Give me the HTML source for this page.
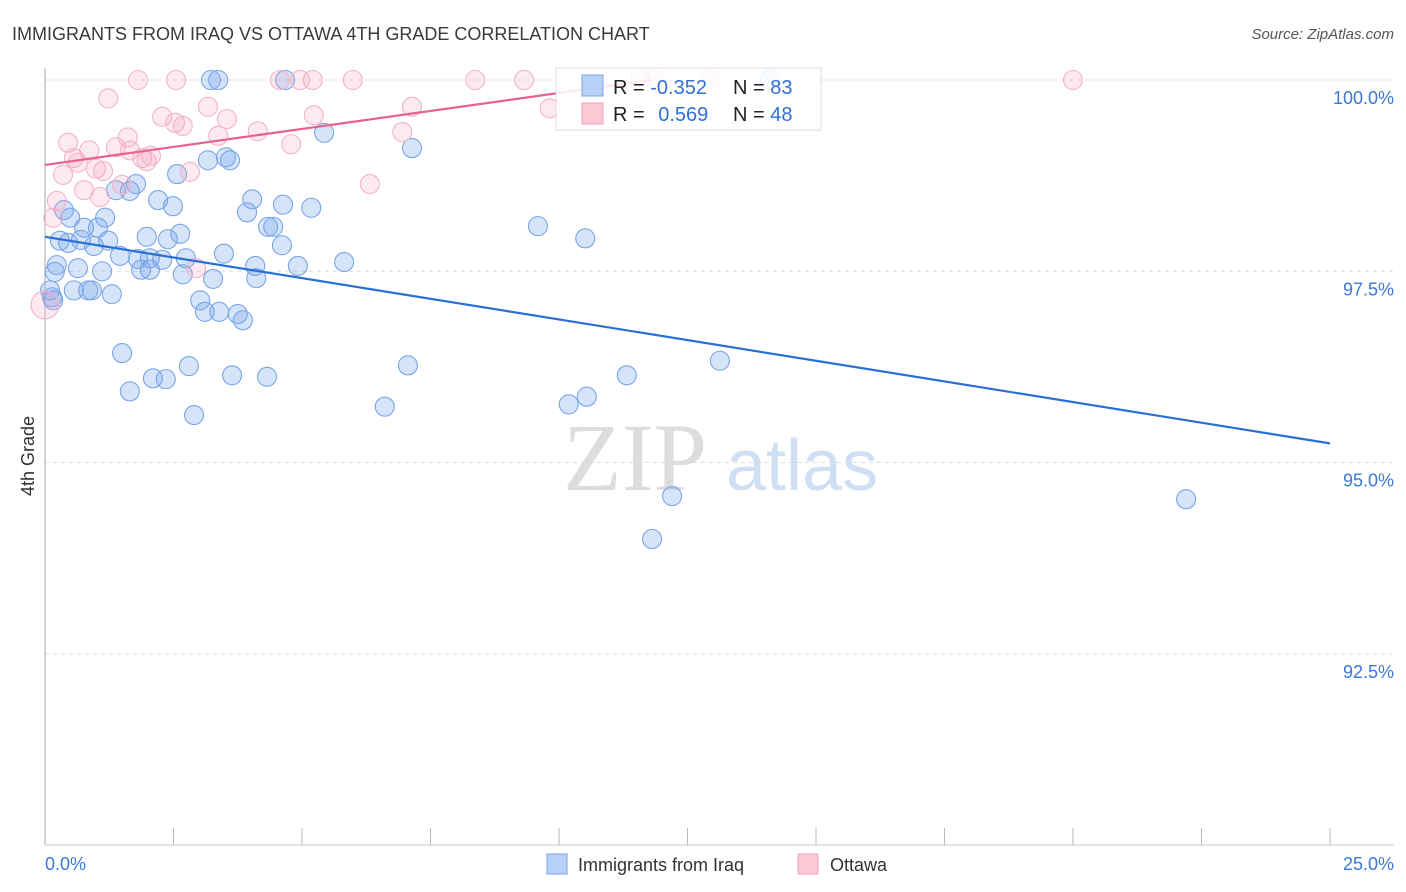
<!DOCTYPE html>
<html><head><meta charset="utf-8"><style>
body{margin:0;background:#fff;font-family:"Liberation Sans",sans-serif}
svg{display:block}
</style></head><body>
<svg id="chart" width="1406" height="892">
<text x="12" y="40" font-size="18" fill="#3a3a3a">IMMIGRANTS FROM IRAQ VS OTTAWA 4TH GRADE CORRELATION CHART</text>
<text x="1394" y="39" font-size="15" fill="#555" font-style="italic" text-anchor="end">Source: ZipAtlas.com</text>
<text x="635" y="490" font-size="96" fill="#ddd" font-family="Liberation Serif,serif" text-anchor="middle">ZIP</text>
<text x="802" y="490" font-size="72" fill="#cfe0f5" text-anchor="middle">atlas</text>
<g id="grid"></g><g id="pts"></g><g id="lines"></g>
<text transform="translate(34,456) rotate(-90)" font-size="18" fill="#333" text-anchor="middle">4th Grade</text>
<g>
<rect x="556" y="68" width="265" height="62" fill="#fff" fill-opacity="0.85" stroke="#ddd"/>
<rect x="582" y="75" width="21" height="21" fill="#b8d0f5" stroke="#7aa6e8"/>
<rect x="582" y="103" width="21" height="21" fill="#fbc8d6" stroke="#f0a0b8"/>
<text x="613" y="94" font-size="20" fill="#222">R = <tspan fill="#2f6fd8">-0.352</tspan></text>
<text x="733" y="94" font-size="20" fill="#222">N = <tspan fill="#2f6fd8">83</tspan></text>
<text x="613" y="121" font-size="20" fill="#222">R = <tspan fill="#2f6fd8" dx="8">0.569</tspan></text>
<text x="733" y="121" font-size="20" fill="#222">N = <tspan fill="#2f6fd8">48</tspan></text>
</g>
<g>
<rect x="547" y="854" width="20" height="20" fill="#b8d0f5" stroke="#7aa6e8"/>
<text x="578" y="871" font-size="18" fill="#333">Immigrants from Iraq</text>
<rect x="798" y="854" width="20" height="20" fill="#fbc8d6" stroke="#f0a0b8"/>
<text x="830" y="871" font-size="18" fill="#333">Ottawa</text>
</g>
<text x="45" y="870" font-size="18" fill="#3b78d8">0.0%</text>
<text x="1394" y="870" font-size="18" fill="#3b78d8" text-anchor="end">25.0%</text>
</svg>
<script>
const yTicks=[100,97.5,95,92.5];
const yTickLabels=["100.0%","97.5%","95.0%","92.5%"];
const blueX=[0.19,0.23,0.10,0.14,0.16,0.37,0.49,0.29,0.45,0.76,1.03,0.70,0.95,1.23,1.17,0.64,1.11,1.46,1.81,1.87,2.04,2.04,2.28,1.98,2.39,2.63,2.74,2.68,0.56,0.84,0.91,1.30,1.65,1.77,1.38,2.20,2.49,2.57,3.17,3.52,3.60,3.23,3.37,3.93,4.03,4.34,4.44,4.63,5.18,4.61,5.43,7.14,4.09,4.11,4.92,5.82,3.48,3.27,3.02,3.11,3.39,3.75,3.85,1.50,1.65,2.10,2.35,2.80,2.90,3.64,4.32,6.61,7.06,10.19,10.54,11.32,13.13,9.59,10.51,12.20,11.81,22.20,4.67,14.1];
const blueY=[97.49,97.58,97.25,97.16,97.12,98.30,98.20,97.90,97.87,98.07,98.07,97.91,97.83,97.90,98.20,97.54,97.50,97.70,97.66,97.52,97.52,97.67,97.65,97.95,97.92,97.99,97.67,97.46,97.25,97.25,97.25,97.20,98.55,98.64,98.56,98.43,98.35,98.77,98.95,98.99,98.95,100,100,98.27,98.44,98.08,98.08,98.37,98.33,97.84,99.31,99.11,97.57,97.41,97.57,97.62,97.73,97.40,97.12,96.97,96.97,96.94,96.86,96.43,95.93,96.10,96.09,96.26,95.62,96.14,96.12,95.73,96.27,95.76,95.86,96.14,96.33,98.09,97.93,94.56,94.00,94.52,100,100];
const pinkX=[1.81,2.55,4.57,4.96,5.21,5.99,8.37,9.32,9.82,11.87,12.94,20.0,1.23,0.45,0.86,0.56,0.64,0.35,0.76,0.23,0.16,0.99,1.13,1.07,1.38,1.61,1.65,1.50,1.89,1.98,2.06,2.28,2.53,2.68,2.82,3.17,3.37,3.54,4.14,4.79,5.23,6.32,6.95,7.14,2.94,0.0,11.58];
const pinkY=[100,100,100,100,100,100,100,100,99.63,100,100,100,99.76,99.18,99.08,98.98,98.92,98.76,98.56,98.42,98.20,98.84,98.81,98.47,99.12,99.25,99.08,98.63,98.98,98.94,99.01,99.52,99.44,99.40,98.80,99.65,99.27,99.49,99.33,99.16,99.54,98.64,99.32,99.65,97.54,97.06,100];
const blueTrend=[[0,97.95],[25,95.25]];
const pinkTrend=[[0,98.89],[11.8,100]];
const NS="http://www.w3.org/2000/svg";
const sx=v=>45+v/25*1285;
const sy=v=>80+(100-v)*76.5;
function mk(t,a,p){const e=document.createElementNS(NS,t);for(const k in a)e.setAttribute(k,a[k]);p.appendChild(e);return e;}
const grid=document.getElementById('grid');
yTicks.forEach((t,i)=>{
 const l=mk('line',{x1:45,x2:1394,y1:sy(t),y2:sy(t),stroke:'#ddd','stroke-dasharray':'4,4'},grid);
 
 
 const tx=mk('text',{x:1394,y:sy(t)+24,'font-size':18,fill:'#3b78d8','text-anchor':'end'},grid);
 tx.textContent=yTickLabels[i];
 
 
});
const ax=mk('line',{x1:45,x2:45,y1:68,y2:845,stroke:'#aaa'},grid);


const bx=mk('line',{x1:45,x2:1394,y1:845,y2:845,stroke:'#ccc'},grid);


for(let k=1;k<=10;k++){
 const t=mk('line',{x1:sx(k*2.5),x2:sx(k*2.5),y1:828,y2:845,stroke:'#bbb'},grid);
 
 
}
const pts=document.getElementById('pts');
blueX.forEach((x,i)=>{
 const c=mk('circle',{cx:sx(x),cy:sy(blueY[i]),r:9.5,fill:'rgba(120,165,235,0.3)',stroke:'#79a5e6','stroke-width':1.1},pts);
 
 
});
pinkX.forEach((x,i)=>{
 const c=mk('circle',{cx:sx(x),cy:sy(pinkY[i]),r:(i==45?14:9.5),fill:'rgba(245,160,185,0.22)',stroke:'#f3b3c6','stroke-width':1.1},pts);
 
 
});
const lines=document.getElementById('lines');
const bl=mk('line',{x1:sx(blueTrend[0][0]),y1:sy(blueTrend[0][1]),x2:sx(blueTrend[1][0]),y2:sy(blueTrend[1][1]),stroke:'#2a6fd6','stroke-width':2.2},lines);


const pl=mk('line',{x1:sx(pinkTrend[0][0]),y1:sy(pinkTrend[0][1]),x2:sx(pinkTrend[1][0]),y2:sy(pinkTrend[1][1]),stroke:'#e8628e','stroke-width':2.2},lines);


</script>
</body></html>
